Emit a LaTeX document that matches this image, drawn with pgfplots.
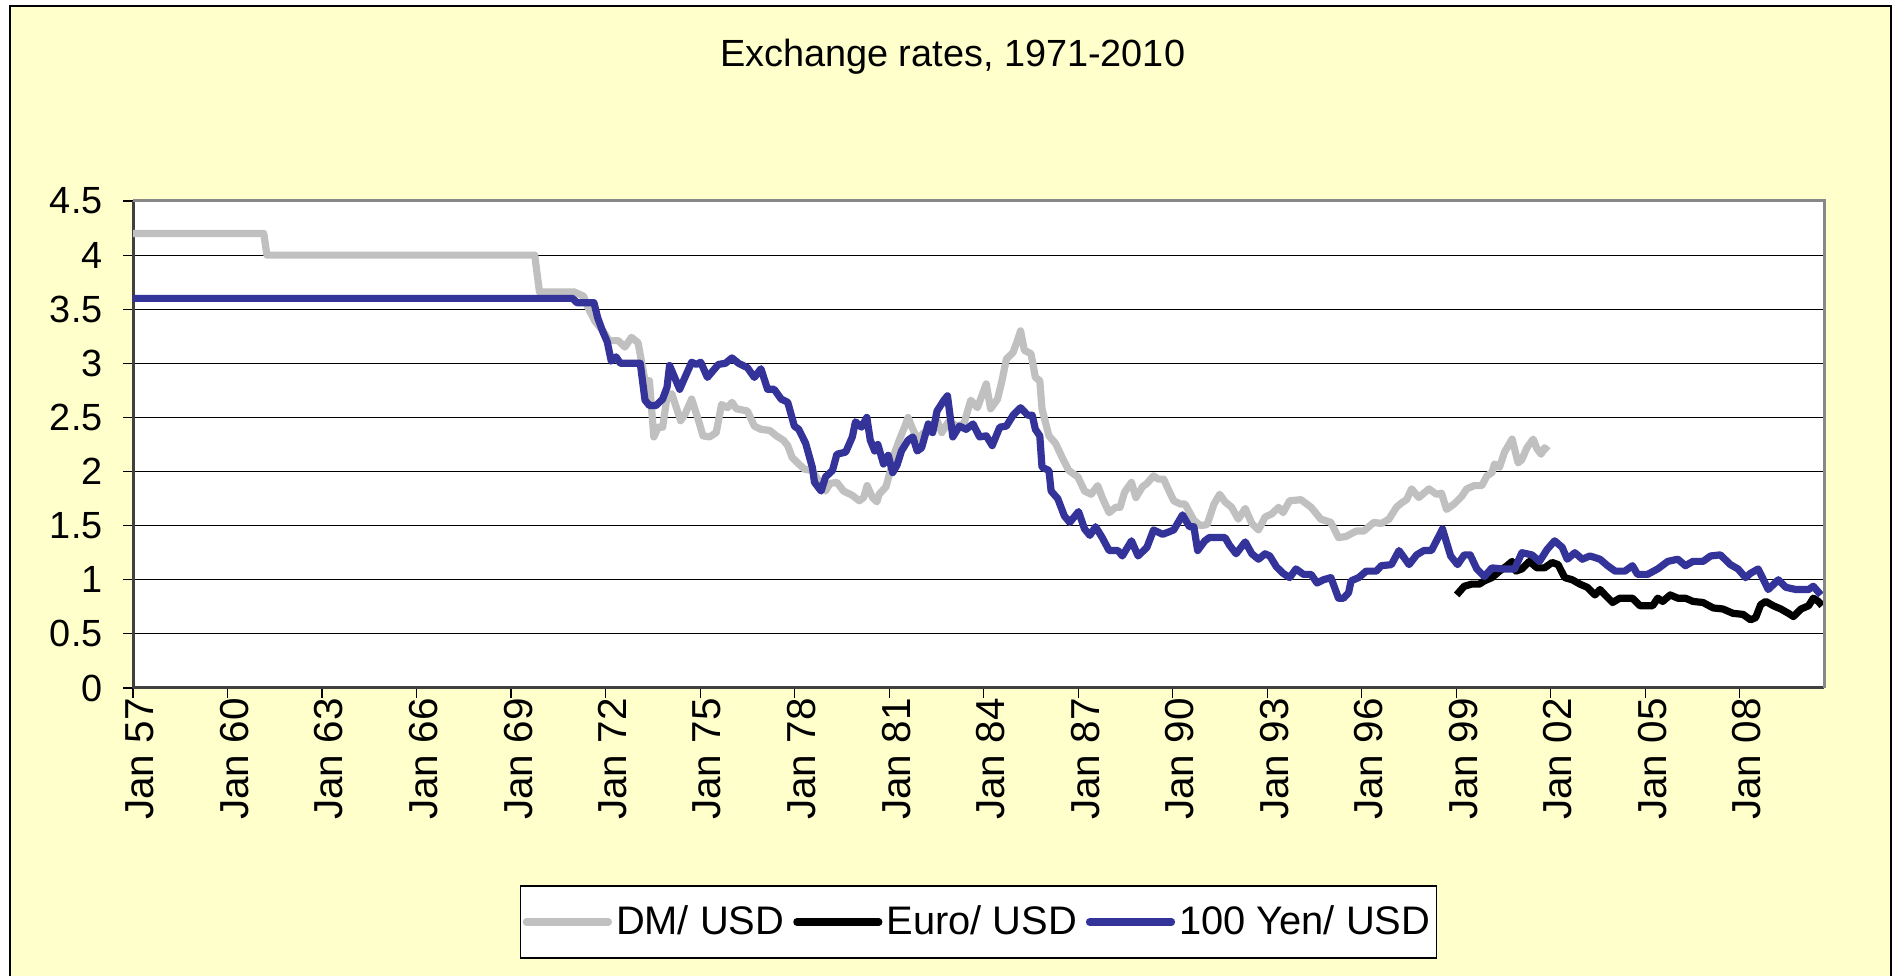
\documentclass[border=0pt]{standalone}
\usepackage{fontspec}
\setmainfont{Liberation Sans}
\usepackage{pgfplots}
\pgfplotsset{compat=1.18}
\definecolor{cream}{HTML}{FFFFCC}
\definecolor{dmgray}{HTML}{C0C0C0}
\definecolor{yenblue}{HTML}{333399}
\definecolor{frameg}{HTML}{888888}
\begin{document}
\begin{tikzpicture}
\useasboundingbox (0,0) rectangle (946bp,488bp);
\fill[cream] (5bp,-20bp) rectangle (945.5bp,485bp);
\draw[black, line width=1bp] (5bp,-20bp) -- (5bp,485bp) -- (945.5bp,485bp) -- (945.5bp,-20bp);
\node[font=\fontsize{19}{22}\selectfont] at (476.3bp,459.5bp) {Exchange rates, 1971-2010};
\begin{axis}[
  at={(66.5bp,144bp)}, anchor=south west,
  scale only axis, width=845.5bp, height=243.5bp,
  xmin=1957, xmax=2010.67, ymin=0, ymax=4.5,
  axis background/.style={fill=white},
  axis x line*=bottom, axis y line*=left,
  axis line style={line width=1.5bp, color=black!75},
  xtick={1957,1960,...,2008},
  xticklabels={Jan 57,Jan 60,Jan 63,Jan 66,Jan 69,Jan 72,Jan 75,Jan 78,Jan 81,Jan 84,Jan 87,Jan 90,Jan 93,Jan 96,Jan 99,Jan 02,Jan 05,Jan 08},
  ytick={0,0.5,1,1.5,2,2.5,3,3.5,4,4.5},
  yticklabels={0,0.5,1,1.5,2,2.5,3,3.5,4,4.5},
  ymajorgrids, grid style={black, line width=0.6bp},
  tick align=outside, major tick length=5bp,
  tick style={black, line width=0.6bp},
  ticklabel style={font=\fontsize{19}{22}\selectfont, inner sep=0pt},
  xticklabel style={rotate=90, anchor=east, yshift=-3.5bp, font=\fontsize{20.3}{23}\selectfont},
  yticklabel style={anchor=east, xshift=-10bp},
  clip=false,
  legend style={at={(0.5,-0.4805)}, anchor=center, draw=black, line width=0.6bp, fill=white,
    font=\fontsize{20}{23}\selectfont, inner xsep=1bp, inner ysep=8bp,
    nodes={inner sep=2bp},
    /tikz/every even column/.append style={column sep=2.5bp}},
  legend columns=3,
  legend image code/.code={\draw[#1, line width=3.6bp, line cap=round] (0bp,0bp) -- (41bp,0bp);},
  every axis plot/.append style={line width=3.6bp, line join=round},
]
\addplot[dmgray, no marks] coordinates {
(1957,4.20) (1961.15,4.20) (1961.25,4.00) (1969.75,4.00) (1969.9,3.66) (1971.0,3.66) (1971.3,3.62)
(1971.45,3.51) (1971.66,3.39) (1971.94,3.29) (1972.11,3.21) (1972.40,3.21) (1972.61,3.15) (1972.82,3.24)
(1973.03,3.19) (1973.25,2.84) (1973.39,2.84) (1973.53,2.32) (1973.67,2.41) (1973.81,2.41) (1973.95,2.69)
(1974.10,2.72) (1974.38,2.47) (1974.52,2.53) (1974.73,2.67) (1974.95,2.47) (1975.09,2.33) (1975.30,2.32)
(1975.51,2.36) (1975.68,2.62) (1975.87,2.59) (1976.01,2.64) (1976.15,2.58) (1976.50,2.56) (1976.72,2.42)
(1976.93,2.39) (1977.21,2.38) (1977.42,2.33) (1977.64,2.29) (1977.78,2.24) (1977.92,2.13) (1978.13,2.07)
(1978.32,2.02) (1978.56,2.01) (1978.75,1.92) (1978.98,1.82) (1979.12,1.89) (1979.34,1.90) (1979.55,1.82)
(1979.83,1.78) (1980.05,1.73) (1980.19,1.76) (1980.30,1.87) (1980.47,1.76) (1980.61,1.72) (1980.68,1.79)
(1980.90,1.86) (1981.04,2.01) (1981.18,2.18) (1981.32,2.29) (1981.50,2.42) (1981.60,2.50) (1981.72,2.41)
(1981.89,2.30) (1982.10,2.36) (1982.24,2.36) (1982.52,2.47) (1982.67,2.36) (1982.88,2.46) (1983.16,2.42)
(1983.37,2.44) (1983.59,2.66) (1983.80,2.59) (1983.94,2.70) (1984.08,2.81) (1984.22,2.58) (1984.44,2.67)
(1984.58,2.84) (1984.72,3.04) (1984.93,3.10) (1985.07,3.21) (1985.17,3.30) (1985.29,3.12) (1985.50,3.09)
(1985.64,2.87) (1985.78,2.84) (1985.85,2.58) (1986.07,2.33) (1986.28,2.26) (1986.49,2.13) (1986.70,2.01)
(1986.99,1.95) (1987.20,1.82) (1987.41,1.79) (1987.62,1.87) (1987.76,1.76) (1987.98,1.62) (1988.19,1.67)
(1988.33,1.67) (1988.47,1.81) (1988.69,1.90) (1988.83,1.76) (1989.04,1.86) (1989.18,1.89) (1989.39,1.96)
(1989.54,1.93) (1989.71,1.93) (1989.82,1.86) (1990.03,1.73) (1990.24,1.70) (1990.39,1.70) (1990.67,1.55)
(1990.88,1.50) (1991.09,1.51) (1991.31,1.70) (1991.49,1.79) (1991.66,1.72) (1991.87,1.67) (1992.08,1.56)
(1992.30,1.66) (1992.51,1.52) (1992.72,1.46) (1992.93,1.58) (1993.15,1.61) (1993.36,1.67) (1993.50,1.62)
(1993.71,1.73) (1994.07,1.74) (1994.39,1.67) (1994.70,1.56) (1995.02,1.53) (1995.26,1.39) (1995.50,1.40)
(1995.82,1.45) (1996.06,1.45) (1996.38,1.53) (1996.62,1.52) (1996.86,1.56) (1997.10,1.67) (1997.26,1.71)
(1997.42,1.74) (1997.58,1.84) (1997.81,1.76) (1998.13,1.84) (1998.37,1.79) (1998.53,1.80) (1998.69,1.65)
(1998.93,1.70) (1999.17,1.77) (1999.33,1.84) (1999.57,1.87) (1999.81,1.87) (1999.97,1.96) (2000.13,1.99)
(2000.21,2.07) (2000.37,2.04) (2000.53,2.18) (2000.77,2.30) (2000.96,2.08) (2001.08,2.11) (2001.24,2.22)
(2001.44,2.30) (2001.56,2.21) (2001.69,2.16) (2001.80,2.22) (2001.91,2.19)
};
\addlegendentry{DM/ USD}
\addplot[black, no marks] coordinates {
(1999.01,0.86) (1999.25,0.94) (1999.49,0.96) (1999.73,0.96) (1999.89,0.99) (2000.13,1.02) (2000.37,1.08)
(2000.61,1.13) (2000.77,1.17) (2000.89,1.08) (2001.08,1.10) (2001.32,1.17) (2001.56,1.11) (2001.80,1.11)
(2002.04,1.16) (2002.23,1.14) (2002.44,1.02) (2002.68,1.00) (2002.92,0.96) (2003.16,0.93) (2003.40,0.86)
(2003.56,0.91) (2003.72,0.86) (2003.96,0.79) (2004.19,0.83) (2004.59,0.83) (2004.83,0.76) (2005.23,0.76)
(2005.39,0.83) (2005.55,0.80) (2005.79,0.86) (2006.03,0.83) (2006.27,0.83) (2006.51,0.80) (2006.83,0.79)
(2007.15,0.74) (2007.46,0.73) (2007.78,0.69) (2008.10,0.68) (2008.34,0.63) (2008.50,0.65) (2008.66,0.77)
(2008.82,0.80) (2009.06,0.76) (2009.30,0.73) (2009.54,0.69) (2009.70,0.66) (2009.94,0.73) (2010.18,0.76)
(2010.33,0.83) (2010.49,0.80) (2010.61,0.76)
};
\addlegendentry{Euro/ USD}
\addplot[yenblue, no marks] coordinates {
(1957,3.60) (1970.95,3.60) (1971.09,3.56) (1971.63,3.56) (1971.75,3.42) (1971.9,3.30) (1972.05,3.20)
(1972.18,3.02) (1972.33,3.06) (1972.47,3.00) (1973.10,3.00) (1973.25,2.66) (1973.39,2.61) (1973.60,2.61)
(1973.81,2.67) (1973.95,2.78) (1974.03,2.98) (1974.35,2.76) (1974.73,3.01) (1974.88,2.99) (1975.02,3.01)
(1975.23,2.87) (1975.58,2.99) (1975.80,3.00) (1976.01,3.05) (1976.22,3.00) (1976.50,2.96) (1976.72,2.87)
(1976.93,2.95) (1977.14,2.76) (1977.35,2.76) (1977.57,2.67) (1977.78,2.64) (1977.99,2.42) (1978.13,2.39)
(1978.35,2.26) (1978.56,2.04) (1978.63,1.90) (1978.84,1.82) (1978.98,1.95) (1979.20,2.01) (1979.34,2.16)
(1979.62,2.18) (1979.83,2.32) (1979.93,2.46) (1980.12,2.41) (1980.29,2.50) (1980.40,2.29) (1980.54,2.19)
(1980.64,2.25) (1980.82,2.07) (1980.97,2.15) (1981.11,1.99) (1981.25,2.06) (1981.39,2.19) (1981.60,2.29)
(1981.75,2.32) (1981.89,2.19) (1982.03,2.22) (1982.24,2.44) (1982.38,2.36) (1982.52,2.56) (1982.74,2.66)
(1982.85,2.70) (1983.02,2.32) (1983.23,2.42) (1983.44,2.39) (1983.66,2.44) (1983.87,2.32) (1984.08,2.33)
(1984.27,2.24) (1984.51,2.41) (1984.72,2.42) (1984.93,2.52) (1985.17,2.59) (1985.40,2.52) (1985.54,2.52)
(1985.64,2.39) (1985.78,2.33) (1985.85,2.04) (1986.07,2.01) (1986.14,1.82) (1986.35,1.75) (1986.56,1.59)
(1986.73,1.53) (1987.01,1.63) (1987.20,1.47) (1987.37,1.41) (1987.55,1.49) (1987.76,1.39) (1987.98,1.27)
(1988.26,1.27) (1988.40,1.22) (1988.69,1.36) (1988.90,1.22) (1989.18,1.30) (1989.39,1.46) (1989.68,1.42)
(1990.03,1.46) (1990.31,1.60) (1990.53,1.49) (1990.67,1.49) (1990.79,1.27) (1991.02,1.36) (1991.16,1.39)
(1991.66,1.39) (1991.80,1.32) (1992.01,1.24) (1992.30,1.35) (1992.51,1.24) (1992.72,1.19) (1992.93,1.24)
(1993.08,1.22) (1993.29,1.12) (1993.50,1.06) (1993.71,1.02) (1993.91,1.10) (1994.15,1.05) (1994.39,1.05)
(1994.58,0.97) (1994.78,1.00) (1995.02,1.02) (1995.26,0.83) (1995.42,0.83) (1995.58,0.88) (1995.66,0.99)
(1995.90,1.02) (1996.14,1.08) (1996.46,1.08) (1996.62,1.13) (1996.94,1.14) (1997.18,1.27) (1997.50,1.14)
(1997.74,1.23) (1997.97,1.27) (1998.21,1.27) (1998.37,1.36) (1998.56,1.47) (1998.82,1.22) (1999.04,1.14)
(1999.25,1.23) (1999.44,1.23) (1999.65,1.10) (1999.89,1.03) (2000.13,1.11) (2000.45,1.10) (2000.85,1.10)
(2001.08,1.25) (2001.40,1.23) (2001.64,1.17) (2001.88,1.28) (2002.12,1.36) (2002.36,1.30) (2002.52,1.19)
(2002.76,1.25) (2003.00,1.19) (2003.24,1.22) (2003.56,1.19) (2003.80,1.13) (2004.04,1.08) (2004.35,1.08)
(2004.59,1.13) (2004.75,1.05) (2005.07,1.05) (2005.39,1.10) (2005.71,1.17) (2006.03,1.19) (2006.27,1.13)
(2006.51,1.17) (2006.83,1.17) (2007.07,1.22) (2007.38,1.23) (2007.70,1.14) (2007.94,1.10) (2008.18,1.02)
(2008.34,1.06) (2008.58,1.10) (2008.90,0.91) (2009.22,1.00) (2009.46,0.93) (2009.78,0.91) (2010.18,0.91)
(2010.33,0.94) (2010.57,0.86)
};
\addlegendentry{100 Yen/ USD}
\draw[frameg, line width=1.5bp] (rel axis cs:0,1) -- (rel axis cs:1,1) -- (rel axis cs:1,0);
\end{axis}
\end{tikzpicture}
\end{document}
